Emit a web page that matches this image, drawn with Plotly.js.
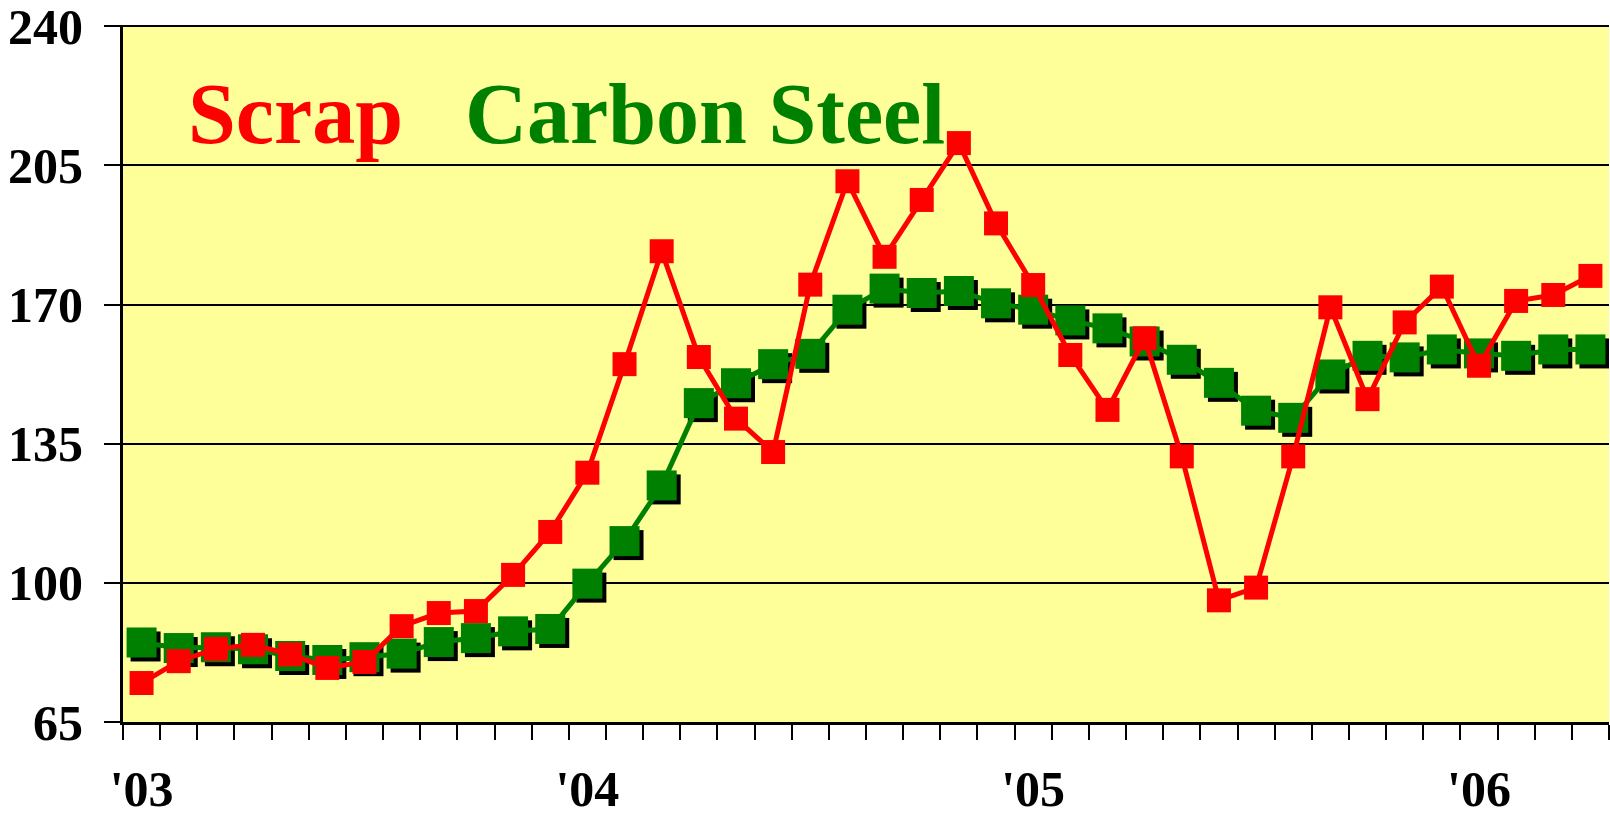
<!DOCTYPE html>
<html>
<head>
<meta charset="utf-8">
<script src="https://cdn.plot.ly/plotly-3.0.1.min.js"></script>
<style>
  html, body { margin: 0; padding: 0; background: #ffffff; }
  #chart { width: 1610px; height: 815px; }
</style>
</head>
<body>
<div id="chart"></div>
<script>
// Monthly index values, Jan 2003 – Apr 2006
const months = Array.from({length: 40}, (_, i) => i);
const scrap = [74.8, 80.3, 83.4, 84.4, 82.0, 78.6, 80.1, 89.1, 92.4, 92.9,
               102.0, 112.8, 127.7, 155.0, 183.4, 156.8, 141.3, 132.9, 175.0, 201.0,
               182.0, 196.3, 210.6, 190.4, 174.9, 157.3, 143.5, 161.5, 131.8, 95.6,
               98.8, 131.8, 169.3, 146.2, 165.5, 174.5, 154.6, 170.9, 172.4, 177.2];
const carbonSteel = [85.0, 83.6, 83.8, 83.3, 81.6, 80.6, 81.3, 82.2, 85.1, 86.1,
                     87.8, 88.4, 99.8, 110.5, 124.5, 145.2, 150.2, 155.0, 157.6, 168.7,
                     174.0, 172.9, 173.4, 170.3, 168.7, 166.0, 164.0, 160.7, 156.1, 150.3,
                     143.3, 141.5, 152.4, 157.1, 156.7, 158.7, 157.7, 157.1, 158.7, 158.7];
const yearTickIdx = [0, 12, 24, 36];
const yearLabels = ["'03", "'04", "'05", "'06"];
const yMin = 65, yMax = 240, yStep = 35;

const W = 1610, H = 815;
const M = {l: 123, r: 1, t: 25, b: 93};
const plotW = W - M.l - M.r, plotH = H - M.t - M.b;
const yTop = yMax + 0.3; // small headroom so the top gridline is drawn
const xRange = [-0.5, months.length - 0.5];
const pxPerX = plotW / (xRange[1] - xRange[0]);
const pxPerY = plotH / (yTop - yMin);
const shadowPx = 4;
const shadowX = months.map(v => v + shadowPx / pxPerX);
const shadowY = carbonSteel.map(v => v - shadowPx / pxPerY);
const boundaries = Array.from({length: months.length + 1}, (_, i) => i - 0.5);

const family = 'Liberation Serif, "Times New Roman", serif';

const traces = [
  {x: shadowX, y: shadowY, type: 'scatter', mode: 'markers', hoverinfo: 'skip',
   marker: {symbol: 'square', size: 30, color: '#000000', line: {width: 0}}, showlegend: false},
  {x: months, y: carbonSteel, type: 'scatter', mode: 'lines+markers', name: 'Carbon Steel',
   line: {color: '#008000', width: 5},
   marker: {symbol: 'square', size: 30, color: '#008000', line: {width: 0}}, showlegend: false},
  {x: months, y: scrap, type: 'scatter', mode: 'lines+markers', name: 'Scrap',
   line: {color: '#FF0000', width: 5},
   marker: {symbol: 'square', size: 24, color: '#FF0000', line: {width: 0}}, showlegend: false}
];

const layout = {
  width: W, height: H,
  margin: M,
  paper_bgcolor: '#ffffff',
  plot_bgcolor: '#FFFF99',
  font: {family: family, weight: 'bold', color: '#000000'},
  xaxis: {
    range: xRange, fixedrange: true,
    tickmode: 'array', tickvals: yearTickIdx, ticktext: yearLabels,
    ticks: '', showgrid: false, zeroline: false,
    showline: true, linecolor: '#000000', linewidth: 3,
    tickfont: {family: family, weight: 'bold', size: 50, color: '#000000'},
    ticklabelstandoff: 21,
    ticklabeloverflow: 'allow',
    minor: {tickmode: 'array', tickvals: boundaries, ticks: 'outside', ticklen: 15,
            tickwidth: 2, tickcolor: '#000000', showgrid: false}
  },
  yaxis: {
    range: [yMin, yTop], fixedrange: true,
    tickmode: 'linear', tick0: yMin, dtick: yStep,
    ticks: 'outside', ticklen: 16, tickwidth: 2, tickcolor: '#000000',
    showgrid: true, gridcolor: '#000000', gridwidth: 2, zeroline: false,
    showline: true, linecolor: '#000000', linewidth: 3,
    tickfont: {family: family, weight: 'bold', size: 50, color: '#000000'},
    ticklabelstandoff: 11,
    ticklabeloverflow: 'allow'
  },
  annotations: [
    {text: 'Scrap', xref: 'paper', yref: 'paper', x: (295.5 - M.l) / plotW, y: (H - M.b - 114) / plotH,
     xanchor: 'center', yanchor: 'middle', showarrow: false,
     font: {family: family, weight: 'bold', size: 86, color: '#FF0000'}},
    {text: 'Carbon Steel', xref: 'paper', yref: 'paper', x: (704.5 - M.l) / plotW, y: (H - M.b - 114) / plotH,
     xanchor: 'center', yanchor: 'middle', showarrow: false,
     font: {family: family, weight: 'bold', size: 86, color: '#008000'}}
  ]
};

Plotly.newPlot('chart', traces, layout, {displayModeBar: false, staticPlot: true});
</script>
</body>
</html>
